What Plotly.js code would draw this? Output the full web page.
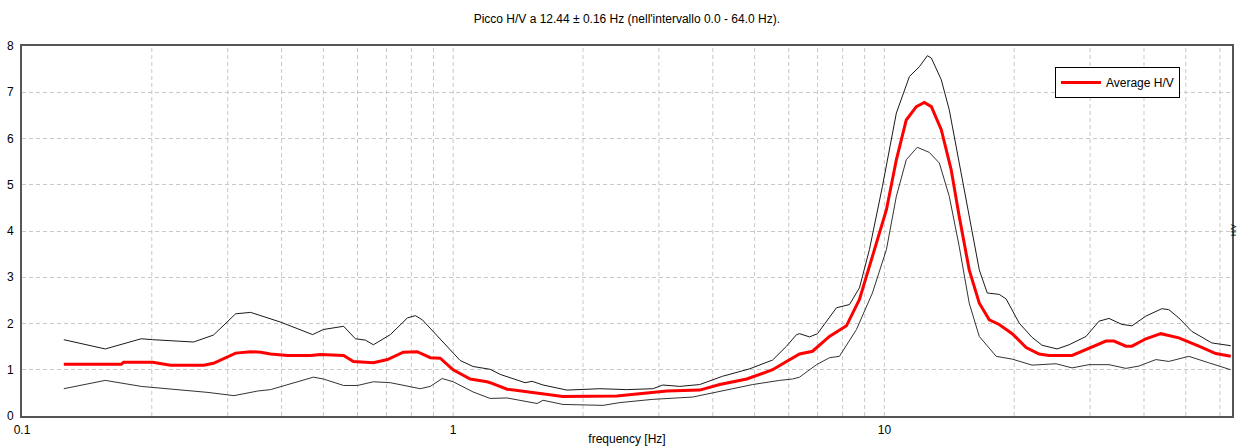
<!DOCTYPE html>
<html>
<head>
<meta charset="utf-8">
<script src="https://cdn.plot.ly/plotly-3.0.1.min.js"></script>
<style>
html,body{margin:0;padding:0;background:#fff;}
#chart{width:1240px;height:446px;}
</style>
</head>
<body>
<div id="chart"></div>
<script>
// Upper bound of H/V (average + std)
const upperFreq = [0.125,0.156,0.189,0.201,0.250,0.278,0.313,0.339,0.398,0.472,0.500,0.557,0.593,0.626,0.653,0.715,0.783,0.817,0.848,0.933,1.000,1.038,1.112,1.218,1.285,1.334,1.468,1.524,1.616,1.836,2.189,2.527,2.904,3.063,3.354,3.730,4.217,4.870,5.505,5.931,6.256,6.357,6.705,6.997,7.742,8.299,8.753,9.233,9.894,10.66,11.43,12.05,12.58,12.85,13.55,14.14,14.91,15.73,16.60,17.32,18.46,19.16,20.21,20.54,22.01,23.21,25.15,26.81,29.36,31.46,33.18,35.56,37.51,40.41,44.00,45.67,48.18,51.64,57.46,63.57];
const upperHV = [1.65,1.45,1.67,1.65,1.60,1.75,2.21,2.24,2.03,1.76,1.87,1.94,1.67,1.64,1.54,1.76,2.12,2.17,2.08,1.66,1.36,1.20,1.07,1.01,0.90,0.85,0.72,0.75,0.67,0.56,0.59,0.57,0.59,0.67,0.64,0.68,0.86,1.02,1.21,1.51,1.76,1.78,1.71,1.78,2.34,2.41,2.77,3.60,4.96,6.55,7.34,7.55,7.79,7.74,7.27,6.62,5.47,4.32,3.16,2.66,2.63,2.53,2.12,2.01,1.70,1.53,1.45,1.54,1.72,2.05,2.11,1.98,1.95,2.16,2.32,2.30,2.12,1.83,1.58,1.52];

// Average H/V
const avgFreq = [0.125,0.170,0.172,0.201,0.221,0.264,0.278,0.313,0.339,0.358,0.377,0.413,0.467,0.492,0.557,0.587,0.653,0.704,0.766,0.825,0.885,0.933,1.000,1.095,1.198,1.218,1.334,1.532,1.797,2.397,2.812,3.129,3.730,4.151,4.794,5.505,5.931,6.357,6.813,7.458,8.166,8.753,9.381,10.11,10.66,11.24,11.86,12.38,12.85,13.55,14.29,14.91,15.73,16.60,17.51,18.46,19.79,21.32,22.85,24.09,27.24,29.36,32.65,34.07,36.33,37.51,40.41,43.77,48.18,53.61,58.69,63.57];
const avgHV = [1.12,1.12,1.16,1.16,1.10,1.10,1.14,1.36,1.39,1.38,1.34,1.31,1.31,1.33,1.31,1.18,1.15,1.22,1.38,1.39,1.26,1.25,1.00,0.80,0.74,0.72,0.58,0.51,0.42,0.43,0.49,0.54,0.56,0.68,0.80,1.00,1.18,1.34,1.40,1.72,1.95,2.52,3.45,4.46,5.54,6.40,6.69,6.78,6.69,6.19,5.32,4.32,3.16,2.44,2.08,1.98,1.78,1.48,1.34,1.31,1.31,1.44,1.62,1.62,1.51,1.51,1.67,1.78,1.69,1.51,1.35,1.29];

// Lower bound of H/V (average - std)
const lowerFreq = [0.125,0.156,0.189,0.233,0.270,0.310,0.352,0.377,0.426,0.474,0.500,0.557,0.600,0.653,0.715,0.783,0.839,0.885,0.943,1.000,1.112,1.218,1.334,1.565,1.616,1.797,2.225,2.436,2.904,3.594,4.217,4.948,5.714,6.124,6.357,6.960,7.458,7.866,8.615,9.381,10.11,10.66,11.24,11.92,12.71,13.41,14.14,14.91,15.73,16.60,18.17,19.79,22.01,25.01,27.24,29.82,33.18,36.33,38.93,42.62,45.67,50.82,56.55,63.57];
const lowerHV = [0.59,0.77,0.64,0.57,0.51,0.44,0.54,0.57,0.72,0.84,0.80,0.66,0.66,0.74,0.72,0.64,0.59,0.64,0.81,0.74,0.52,0.38,0.39,0.27,0.34,0.25,0.23,0.29,0.36,0.41,0.54,0.68,0.77,0.80,0.84,1.11,1.26,1.29,1.87,2.66,3.60,4.75,5.54,5.81,5.70,5.47,4.75,3.67,2.44,1.72,1.29,1.23,1.10,1.13,1.04,1.11,1.11,1.03,1.08,1.22,1.18,1.29,1.15,1.00];

const xTickVals = [0.1, 1, 10];
const xTickText = ['0.1', '1', '10'];
const yTickVals = [0, 1, 2, 3, 4, 5, 6, 7, 8];

const titleText = "Picco H/V a 12.44 \u00b1 0.16 Hz (nell'intervallo 0.0 - 64.0 Hz).";
const xTitle = 'frequency [Hz]';
const legendName = 'Average H/V';
const rightLabel = 'H/V';

// gridline positions on the log axis (1..9 in each decade)
const gridVals = [];
[0.1, 1, 10].forEach(d => { for (let k = 1; k <= 9; k++) { const v = d * k; if (v <= 64) gridVals.push(v); } });

const gridDash = '4px,3px';
const gridColor = '#c8c8c8';

const traces = [
  {x: upperFreq, y: upperHV, type: 'scatter', mode: 'lines', line: {color: '#1a1a1a', width: 1}, showlegend: false, hoverinfo: 'skip'},
  {x: lowerFreq, y: lowerHV, type: 'scatter', mode: 'lines', line: {color: '#333333', width: 1}, showlegend: false, hoverinfo: 'skip'},
  {x: avgFreq, y: avgHV, type: 'scatter', mode: 'lines', name: legendName, line: {color: '#ff0000', width: 3}, showlegend: true}
];

const font = {family: 'Liberation Sans, Arial, sans-serif', size: 12, color: '#000'};

const layout = {
  width: 1240, height: 446,
  margin: {l: 22, r: 8, t: 46, b: 30, pad: 0},
  paper_bgcolor: '#ffffff', plot_bgcolor: '#ffffff',
  font: font,
  title: {text: titleText, font: {family: font.family, size: 12, color: '#000'}, x: 0.5055, xanchor: 'center', y: 0.957, yanchor: 'middle'},
  showlegend: true,
  legend: {x: 0.8537, y: 0.943, xanchor: 'left', yanchor: 'top', bgcolor: '#ffffff', bordercolor: '#000000', borderwidth: 1, font: {family: font.family, size: 12, color: '#000'}, tracegroupgap: 0, itemwidth: 40},
  xaxis: {
    type: 'log', range: [-1, Math.log10(64)],
    tickmode: 'array', tickvals: xTickVals, ticktext: xTickText,
    showgrid: false, zeroline: false,
    showline: true, linecolor: '#555555', linewidth: 2, mirror: true,
    ticks: '', ticklabelstandoff: 2,
    tickfont: {family: font.family, size: 12, color: '#000'},
    title: {text: xTitle, font: {family: font.family, size: 12, color: '#000'}, standoff: 4}
  },
  yaxis: {
    range: [0, 8], tickmode: 'array', tickvals: yTickVals,
    showgrid: true, gridcolor: gridColor, griddash: gridDash, gridwidth: 1,
    zeroline: false, showline: true, linecolor: '#555555', linewidth: 2, mirror: true,
    ticks: '', ticklabelstandoff: 4,
    tickfont: {family: font.family, size: 12, color: '#000'}
  },
  shapes: gridVals.filter(v => v > 0.1 && v < 64).map(v => ({
    type: 'line', xref: 'x', yref: 'paper', x0: v, x1: v, y0: 0, y1: 1,
    line: {color: gridColor, width: 1, dash: gridDash}, layer: 'below'
  })),
  annotations: [
    {text: rightLabel, xref: 'paper', yref: 'paper', x: 1.0055, y: 0.503, xanchor: 'right', yanchor: 'middle', textangle: -90, borderpad: 0, showarrow: false, font: {family: font.family, size: 7, color: '#000'}}
  ],
  hovermode: false
};

Plotly.newPlot('chart', traces, layout, {displayModeBar: false, staticPlot: true});
</script>
</body>
</html>
